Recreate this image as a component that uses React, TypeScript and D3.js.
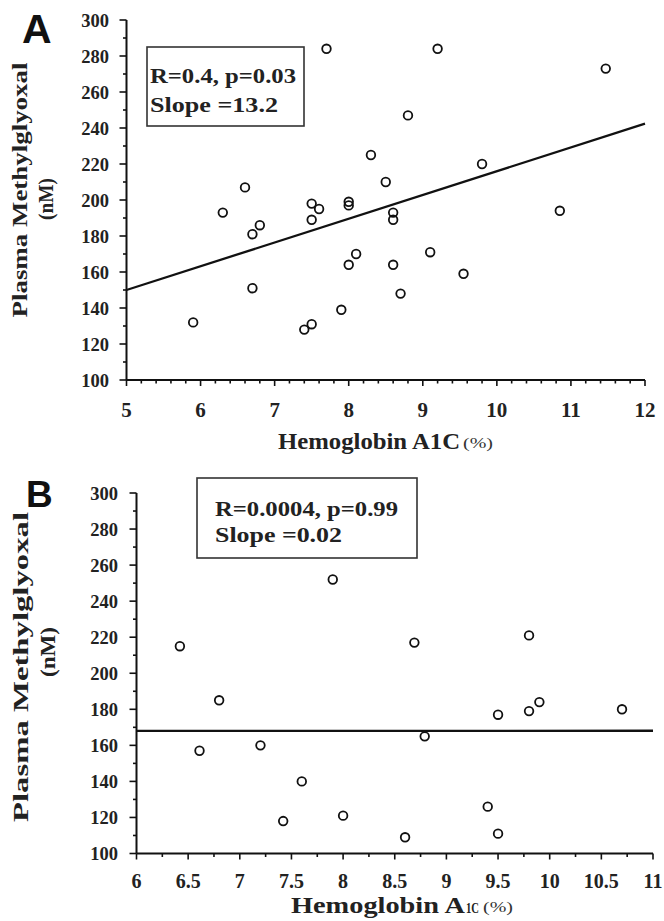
import React from "react";
import * as d3 from "d3";

// ---------- data ----------
const hba1cA = [5.9, 6.3, 6.6, 6.7, 6.8, 6.7, 7.4, 7.5, 7.5, 7.5, 7.6, 7.7, 7.9, 8.0, 8.0, 8.0, 8.1, 8.3, 8.5, 8.6, 8.6, 8.6, 8.7, 8.8, 9.1, 9.2, 9.55, 9.8, 10.85, 11.47];
const mgA = [132, 193, 207, 181, 186, 151, 128, 131, 198, 189, 195, 284, 139, 199, 197, 164, 170, 225, 210, 193, 189, 164, 148, 247, 171, 284, 159, 220, 194, 273];

const hba1cB = [6.42, 6.61, 6.8, 7.2, 7.42, 7.6, 7.9, 8.0, 8.6, 8.69, 8.79, 9.4, 9.5, 9.5, 9.8, 9.8, 9.9, 10.7];
const mgB = [215, 157, 185, 160, 118, 140, 252, 121, 109, 217, 165, 126, 177, 111, 221, 179, 184, 180];

const fitA = { x0: 5, y0: 150, slope: 13.2, x1: 12 };
const fitB = { x0: 6, y0: 168, slope: 0.02, x1: 11 };

const yTickLabels = [100, 120, 140, 160, 180, 200, 220, 240, 260, 280, 300];
const xTickLabelsA = [5, 6, 7, 8, 9, 10, 11, 12];
const xTickLabelsB = [6, 6.5, 7, 7.5, 8, 8.5, 9, 9.5, 10, 10.5, 11];

const statsA = ["R=0.4, p=0.03", "Slope =13.2"];
const statsB = ["R=0.0004, p=0.99", "Slope =0.02"];

// ---------- layout ----------
const SERIF = "'Liberation Serif', 'Times New Roman', serif";
const SANS = "'Liberation Sans', Arial, sans-serif";

function Panel(props: {
  xs: number[];
  ys: number[];
  xDomain: [number, number];
  xRange: [number, number];
  yRange: [number, number];
  xTicks: number[];
  xMinorStep: number;
  fit: { x0: number; y0: number; slope: number; x1: number };
  letter: string;
  letterPos: [number, number, number];
  stats: string[];
  box: { x: number; y: number; w: number; h: number; tx: number; b1: number; b2: number; l1: number; l2: number };
  yTickRight: number;
  yTitle: { x1: number; y1: number; len1: number; x2: number; y2: number; len2: number; fs: number };
  xTickBaseline: number;
  xTickFs: number;
  xTitle: { x: number; base: number; len: number; main: string; sub?: string; subX?: number; subLen?: number; pctX: number; pctLen: number };
}) {
  const x = d3.scaleLinear().domain(props.xDomain).range(props.xRange);
  const y = d3.scaleLinear().domain([100, 300]).range(props.yRange);
  const yMinor = d3.range(100, 301, 10);
  const xMinor = d3.range(props.xDomain[0], props.xDomain[1] + 1e-9, props.xMinorStep);
  const line = d3.line<[number, number]>().x((d) => x(d[0])).y((d) => y(d[1]));
  const f = props.fit;
  const fitPts: [number, number][] = [
    [f.x0, f.y0],
    [f.x1, f.y0 + f.slope * (f.x1 - f.x0)],
  ];
  const x0 = x(props.xDomain[0]);
  const yBottom = y(100);
  const fmt = (v: number) => String(v);
  return (
    <g>
      <text x={props.letterPos[0]} y={props.letterPos[1]} fontFamily={SANS} fontWeight="bold" fontSize={props.letterPos[2]} fill="#111">
        {props.letter}
      </text>
      {/* y axis */}
      <line x1={x0} x2={x0} y1={y(300)} y2={yBottom} stroke="#111" strokeWidth={2} />
      {yMinor.map((v) => (
        <line key={"ym" + v} x1={x0} x2={x0 - (v % 20 === 0 ? 7 : 3.5)} y1={y(v)} y2={y(v)} stroke="#111" strokeWidth={1.6} />
      ))}
      {yTickLabels.map((v) => (
        <text key={"yt" + v} x={props.yTickRight} y={y(v)} dy="0.36em" textAnchor="end" fontFamily={SERIF} fontWeight="bold" fontSize={18.5} fill="#222">
          {fmt(v)}
        </text>
      ))}
      {/* x axis */}
      <line x1={x0} x2={x(props.xDomain[1])} y1={yBottom} y2={yBottom} stroke="#111" strokeWidth={2} />
      {xMinor.map((v, i) => {
        const major = props.xTicks.some((t) => Math.abs(t - v) < 1e-6);
        return <line key={"xm" + i} x1={x(v)} x2={x(v)} y1={yBottom} y2={yBottom + (major ? 6 : 3.5)} stroke="#111" strokeWidth={1.6} />;
      })}
      {props.xTicks.map((v) => (
        <text key={"xt" + v} x={x(v)} y={props.xTickBaseline} textAnchor="middle" fontFamily={SERIF} fontWeight="bold" fontSize={props.xTickFs} fill="#222">
          {fmt(v)}
        </text>
      ))}
      {/* axis titles */}
      <text transform={`translate(${props.yTitle.x1},${props.yTitle.y1}) rotate(-90)`} textAnchor="middle" fontFamily={SERIF} fontWeight="bold" fontSize={props.yTitle.fs} textLength={props.yTitle.len1} lengthAdjust="spacingAndGlyphs" fill="#222">
        Plasma Methylglyoxal
      </text>
      <text transform={`translate(${props.yTitle.x2},${props.yTitle.y2}) rotate(-90)`} textAnchor="middle" fontFamily={SERIF} fontWeight="bold" fontSize={props.yTitle.fs} textLength={props.yTitle.len2} lengthAdjust="spacingAndGlyphs" fill="#222">
        (nM)
      </text>
      <text x={props.xTitle.x} y={props.xTitle.base} fontFamily={SERIF} fontWeight="bold" fontSize={23} textLength={props.xTitle.len} lengthAdjust="spacingAndGlyphs" fill="#222">
        {props.xTitle.main}
      </text>
      {props.xTitle.sub ? (
        <text x={props.xTitle.subX} y={props.xTitle.base} fontFamily={SERIF} fontWeight="bold" fontSize={14} textLength={props.xTitle.subLen} lengthAdjust="spacingAndGlyphs" fill="#222">
          {props.xTitle.sub}
        </text>
      ) : null}
      <text x={props.xTitle.pctX} y={props.xTitle.base - 1} fontFamily={SERIF} fontSize={14} textLength={props.xTitle.pctLen} lengthAdjust="spacingAndGlyphs" fill="#333">
        (%)
      </text>
      {/* fit line */}
      <path d={line(fitPts) || ""} stroke="#111" strokeWidth={2.3} fill="none" />
      {/* points */}
      {props.xs.map((v, i) => (
        <circle key={"p" + i} cx={x(v)} cy={y(props.ys[i])} r={4.3} fill="none" stroke="#111" strokeWidth={1.8} />
      ))}
      {/* stats box */}
      <rect x={props.box.x} y={props.box.y} width={props.box.w} height={props.box.h} fill="#fff" stroke="#333" strokeWidth={1.6} />
      <text x={props.box.tx} y={props.box.b1} fontFamily={SERIF} fontWeight="bold" fontSize={21} textLength={props.box.l1} lengthAdjust="spacingAndGlyphs" fill="#222">
        {props.stats[0]}
      </text>
      <text x={props.box.tx} y={props.box.b2} fontFamily={SERIF} fontWeight="bold" fontSize={21} textLength={props.box.l2} lengthAdjust="spacingAndGlyphs" fill="#222">
        {props.stats[1]}
      </text>
    </g>
  );
}

export default function App() {
  return (
    <svg width={664} height={921} viewBox="0 0 664 921" style={{ position: "absolute", left: 0, top: 0, background: "#fff" }}>
      <rect x={0} y={0} width={664} height={921} fill="#fff" />
      <Panel
        xs={hba1cA}
        ys={mgA}
        xDomain={[5, 12]}
        xRange={[126.5, 645]}
        yRange={[380, 20]}
        xTicks={xTickLabelsA}
        xMinorStep={0.2}
        fit={fitA}
        letter="A"
        letterPos={[22, 43, 41]}
        stats={statsA}
        box={{ x: 147, y: 47, w: 157, h: 79, tx: 150, b1: 83, b2: 112, l1: 146, l2: 128 }}
        yTickRight={109}
        yTitle={{ x1: 27, y1: 190, len1: 255, x2: 53, y2: 199, len2: 42, fs: 20 }}
        xTickBaseline={417}
        xTickFs={21}
        xTitle={{ x: 278, base: 449, len: 182, main: "Hemoglobin A1C", pctX: 463, pctLen: 30 }}
      />
      <Panel
        xs={hba1cB}
        ys={mgB}
        xDomain={[6, 11]}
        xRange={[136.5, 653]}
        yRange={[853.5, 493]}
        xTicks={xTickLabelsB}
        xMinorStep={0.25}
        fit={fitB}
        letter="B"
        letterPos={[26, 507, 37]}
        stats={statsB}
        box={{ x: 197, y: 478, w: 220, h: 80, tx: 215, b1: 516, b2: 542, l1: 183, l2: 127 }}
        yTickRight={118}
        yTitle={{ x1: 28, y1: 667, len1: 310, x2: 55, y2: 652, len2: 50, fs: 21 }}
        xTickBaseline={888}
        xTickFs={20}
        xTitle={{ x: 291, base: 913, len: 174, main: "Hemoglobin A", sub: "1C", subX: 466, subLen: 13, pctX: 483, pctLen: 30 }}
      />
    </svg>
  );
}
